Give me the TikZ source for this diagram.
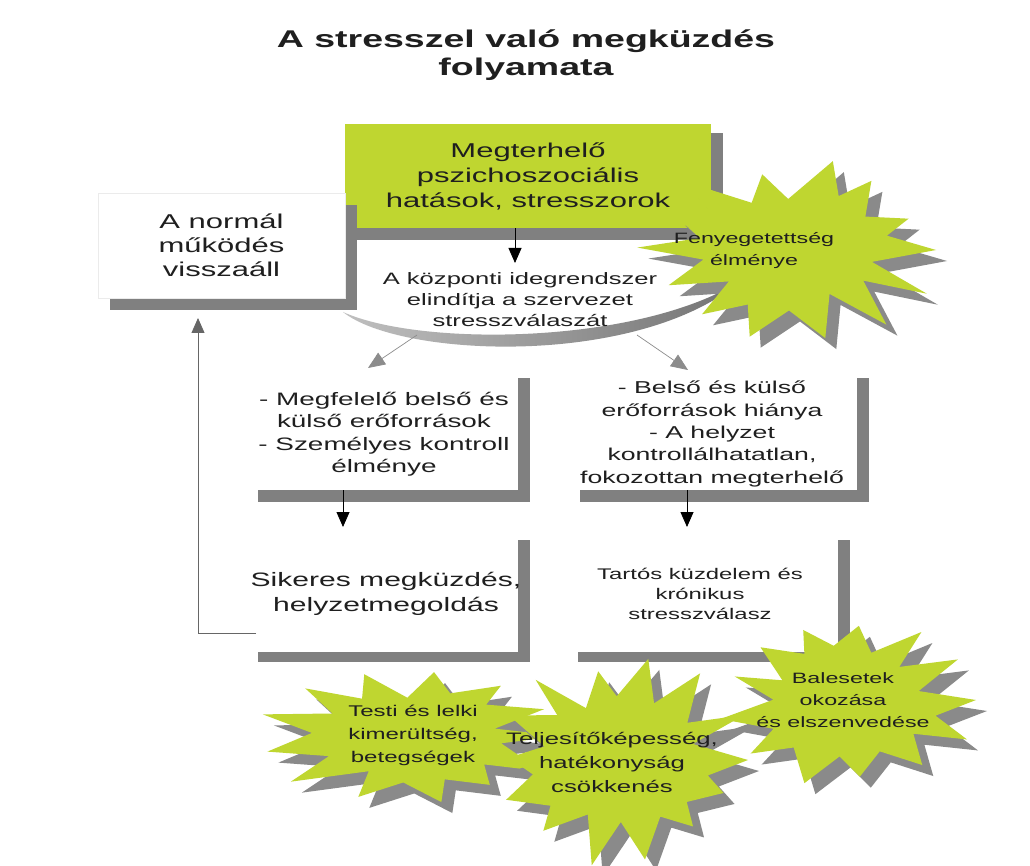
\documentclass[tikz,border=0pt]{standalone}
\usepackage{fontspec}
\setmainfont{Liberation Sans}[FakeStretch=1.55]
\usetikzlibrary{arrows.meta}
\definecolor{lime}{HTML}{BFD630}
\definecolor{shadowg}{HTML}{8A8A8A}
\definecolor{barg}{HTML}{808080}
\newcommand{\burstat}[7]{%
  \pgfmathsetseed{#7}%
  \pgfmathtruncatemacro{\bN}{2*#5-1}%
  \path[burst] ({#1+#3},{#2})
   \foreach \bk [evaluate=\bk as \bang using {\bk*180/#5+8*(rnd-0.5)},
                 evaluate=\bk as \brad using {(isodd(\bk)*#6+(1-isodd(\bk)))*(0.86+0.26*rnd)}] in {1,...,\bN}
   { -- ({#1+#3*\brad*cos(\bang)},{#2+#4*\brad*sin(\bang)}) } -- cycle;
}
\begin{document}
\begin{tikzpicture}[
 x=1pt, y=-1pt,
 fs/.style 2 args={font=\fontsize{#1}{#2}\selectfont},
 lbl/.style={align=center, inner sep=0pt, text=black!88},
 bar/.style={fill=barg},
 arr/.style={-{Triangle[length=15pt,width=13pt]}, line width=0.8pt, draw=black},
 darr/.style={-{Triangle[length=17pt,width=14pt]}, line width=0.7pt, draw=black!45},
 fbline/.style={-{Triangle[length=15pt,width=13pt]}, line width=0.8pt, draw=black!60},
 burst/.style={fill=lime, preaction={fill=shadowg, transform canvas={xshift=11pt,yshift=-11pt}}},
]
\useasboundingbox (0,0) rectangle (1030,866);
\fill[white] (0,0) rectangle (1030,866);

% title
\node[lbl, font=\bfseries\fontsize{24.2}{28}\selectfont] (title) at (526,55) {A stresszel való megküzdés\\folyamata};

% green box
\fill[bar] (711,133) rectangle (723,240);
\fill[bar] (352,228) rectangle (723,240);
\node[fill=lime, minimum width=366pt, minimum height=104pt, lbl, fs={20}{25}] (green) at (528,176) {Megterhelő\\pszichoszociális\\hatások, stresszorok};

% normal box
\fill[bar] (345,205) rectangle (357,310);
\fill[bar] (110,298) rectangle (357,310);
\node[draw=black!8, fill=white, minimum width=247pt, minimum height=105pt, lbl, fs={20}{24}] (normal) at (221.5,245.5) {A normál\\működés\\visszaáll};

% crescent
\shade[left color=black!25, right color=black!55]
  (343,312) .. controls (400,358) and (640,368) .. (742,280)
  .. controls (640,345) and (420,347) .. (343,312) -- cycle;

% central text
\node[lbl, fs={16.5}{21}] (stress) at (520,300) {A központi idegrendszer\\elindítja a szervezet\\stresszválaszát};

% middle boxes
\fill[bar] (518,378) rectangle (530,502);
\fill[bar] (258,490) rectangle (530,502);
\node[minimum width=268pt, minimum height=112pt, lbl, fs={18}{22.5}] (lbox) at (384,434) {- Megfelelő belső és\\külső erőforrások\\- Személyes kontroll\\élménye};
\fill[bar] (857,378) rectangle (869,502);
\fill[bar] (580,490) rectangle (869,502);
\node[minimum width=284pt, minimum height=112pt, lbl, fs={17.2}{22.3}] (rbox) at (712,434) {- Belső és külső\\erőforrások hiánya\\- A helyzet\\kontrollálhatatlan,\\fokozottan megterhelő};

% bottom boxes
\fill[bar] (518,540) rectangle (530,662);
\fill[bar] (258,652) rectangle (530,662);
\node[minimum width=260pt, minimum height=112pt, lbl, fs={19.4}{25}] (sbox) at (386,594) {Sikeres megküzdés,\\helyzetmegoldás};
\fill[bar] (838,540) rectangle (850,662);
\fill[bar] (578,652) rectangle (850,662);
\node[minimum width=260pt, minimum height=112pt, lbl, fs={15.4}{20}] (tbox) at (700,594) {Tartós küzdelem és\\krónikus\\stresszválasz};

% connectors
\coordinate (a1e) at (515,263);
\draw[arr] (green.south -| a1e) -- (a1e);
\coordinate (dl1) at (417,335);
\coordinate (dl2) at (368,368);
\draw[darr] (dl1) -- (dl2);
\coordinate (dr1) at (637,335);
\coordinate (dr2) at (688,370);
\draw[darr] (dr1) -- (dr2);
\coordinate (vl2) at (343,527);
\draw[arr] (lbox.south -| vl2) -- (vl2);
\coordinate (vr2) at (687,527);
\draw[arr] (rbox.south -| vr2) -- (vr2);
\coordinate (fb1) at (256,633);
\coordinate (fb2) at (198,633);
\coordinate (fb3) at (198,318);
\draw[fbline] (fb1) -- (fb2) -- (fb3);

% starbursts
\burstat{790}{250}{146}{86}{14}{0.64}{21}
\node[lbl, fs={15}{22}] (feny) at (754,251) {Fenyegetettség\\élménye};

\burstat{848}{700}{128}{85}{13}{0.64}{11}
\node[lbl, fs={15}{22}] (bal) at (843,700) {Balesetek\\okozása\\és elszenvedése};

\burstat{415}{736}{145}{66}{13}{0.64}{3}
\node[lbl, fs={15.5}{23}] (testi) at (413,735) {Testi és lelki\\kimerültség,\\betegségek};

\burstat{620}{760}{128}{100}{14}{0.64}{5}
\node[lbl, fs={16.6}{24}] (telj) at (612,762) {Teljesítőképesség,\\hatékonyság\\csökkenés};
\end{tikzpicture}
\end{document}
